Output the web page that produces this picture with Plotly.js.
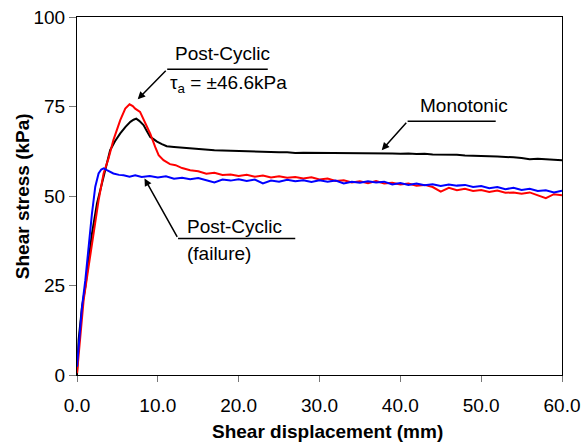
<!DOCTYPE html>
<html>
<head>
<meta charset="utf-8">
<script src="https://cdn.plot.ly/plotly-3.0.1.min.js"></script>
<style>html,body{margin:0;padding:0;background:#fff;}#chart{width:584px;height:447px;}</style>
</head>
<body>
<div id="chart"></div>
<script>
// Monotonic (black)
const monoX = [0,0.2,0.62,1.03,1.43,1.85,2.47,2.96,3.5,4.1,4.7,5.35,6.0,6.6,7.0,7.33,7.7,8.23,8.6,9.06,9.47,9.9,10.5,11.1,12,13,14,15,16,17,18,19,20,21,22,23,24,25,26,27,28,29,30,31,32,33,34,35,36,37,38,39,40,41,42,43,44,45,46,47,48,49,50,51,52,53,54,55,56,57,58,59,60];
const monoY = [0,9.8,19,24.6,32,39.5,47.9,52.6,57.2,62.8,65.3,67.5,69.3,70.7,71.3,71.6,71.0,69.8,68.3,66.5,65.9,65.2,64.5,63.9,63.7,63.5,63.2,63.0,63.0,62.8,62.7,62.6,62.6,62.4,62.5,62.3,62.2,62.2,62.2,62.0,62.1,62.1,62.1,62.0,62.1,62.0,62.0,62.1,61.9,62.0,62.1,61.9,61.8,61.9,61.7,61.8,61.6,61.6,61.4,61.5,61.3,61.3,61.2,61.1,61.0,61.0,60.8,60.6,60.3,60.4,60.2,60.1,60.0];
// Post-Cyclic tau_a = +/-46.6 kPa (red)
const cyclicX = [0,0.41,0.82,1.43,2.05,2.67,3.29,3.9,4.5,5.35,5.97,6.5,6.9,7.2,7.8,8.4,9.06,9.67,10.1,10.7,11.5,12.2,12.8,13,14,15,16,17,18,19,20,21,22,23,24,25,26,27,28,29,30,31,32,33,34,35,36,37,38,39,40,41,42,43,44,45,46,47,48,49,50,51,52,53,54,55,56,57,58,59,60];
const cyclicY = [0.5,11.6,20.9,30.2,39.5,48.8,56.3,60.5,65.6,71.2,74.4,75.6,75.1,74.4,73.5,70.7,67.4,63.7,61.4,60.0,58.9,58.6,58.1,57.8,57.2,56.9,56.2,56.5,55.9,56.0,55.6,55.9,55.4,55.7,55.2,55.5,55.1,55.3,54.9,55.2,54.6,54.9,54.2,54.4,53.8,54.1,53.6,54.2,53.5,53.7,53.2,53.5,52.9,53.1,52.5,51.2,52.3,51.6,52.0,51.4,51.7,51.1,51.5,50.9,51.0,50.6,51.0,50.3,49.4,50.5,50.2];
// Post-Cyclic failure (blue)
const failX = [0,0.33,0.62,1.03,1.43,1.85,2.26,2.67,3.0,3.29,3.7,4.5,5.2,5.76,6.5,7.2,8,9,10,11,12,13,14,15,16,17,18,19,20,21,22,23,24,25,26,27,28,29,30,31,32,33,34,35,36,37,38,39,40,41,42,43,44,45,46,47,48,49,50,51,52,53,54,55,56,57,58,59,60];
const failY = [2.3,11.6,19,26.5,35.8,45.1,52.6,56.3,57.4,57.7,57.2,56.3,55.9,55.8,55.4,55.8,55.3,55.6,55.2,55.5,54.8,55.1,54.7,55.0,54.4,53.8,54.6,54.3,54.7,54.2,54.6,53.5,54.3,54.0,54.5,54.1,54.4,53.9,54.4,54.0,54.3,53.5,54.0,53.7,54.1,53.8,54.0,53.2,53.6,53.1,53.5,53.0,53.3,52.8,53.2,52.9,53.1,52.5,52.8,52.2,52.5,51.9,52.3,51.7,52.0,51.4,51.6,51.0,51.5];

const xTicks = [0,10,20,30,40,50,60];
const xTickText = ["0.0","10.0","20.0","30.0","40.0","50.0","60.0"];
const yTicks = [0,25,50,75,100];

const FONT = "Liberation Sans, Arial, sans-serif";

const traces = [
  {x: monoX, y: monoY, mode: "lines", line: {color: "#000000", width: 2}, name: "Monotonic"},
  {x: cyclicX, y: cyclicY, mode: "lines", line: {color: "#ff0000", width: 2}, name: "Post-Cyclic"},
  {x: failX, y: failY, mode: "lines", line: {color: "#0000ff", width: 2}, name: "Post-Cyclic (failure)"}
];

const annFont = {family: FONT, size: 19, color: "#000"};
const titleFont = {family: FONT, size: 19, color: "#000"};
const layout = {
  width: 584, height: 447,
  margin: {l: 77, r: 22, t: 17, b: 72},
  paper_bgcolor: "#fff", plot_bgcolor: "#fff",
  showlegend: false,
  font: {family: FONT, color: "#000"},
  xaxis: {
    range: [0, 60], tickvals: xTicks, ticktext: xTickText,
    ticks: "outside", ticklen: 6, tickcolor: "#777", tickwidth: 1,
    showline: true, linecolor: "#000", linewidth: 1, mirror: true,
    showgrid: false, zeroline: false,
    tickfont: {family: FONT, size: 19, color: "#000"},
    ticklabelstandoff: 7
  },
  yaxis: {
    range: [0, 100], tickvals: yTicks,
    ticks: "outside", ticklen: 7, tickcolor: "#777", tickwidth: 1,
    showline: true, linecolor: "#000", linewidth: 1, mirror: true,
    showgrid: false, zeroline: false,
    tickfont: {family: FONT, size: 19, color: "#000"}
  },
  shapes: [
    {type: "line", xref: "x", yref: "y", x0: 11.16, x1: 23.6, y0: 85.4, y1: 85.4, line: {color: "#000", width: 1.5}},
    {type: "line", xref: "x", yref: "y", x0: 40.9, x1: 51.8, y0: 70.9, y1: 70.9, line: {color: "#000", width: 1.5}},
    {type: "line", xref: "x", yref: "y", x0: 12.5, x1: 27.0, y0: 38.15, y1: 38.15, line: {color: "#000", width: 1.5}}
  ],
  annotations: [
    {xref: "x", yref: "y", x: 7.51, y: 77.0, axref: "x", ayref: "y", ax: 11.16, ay: 85.4, showarrow: true, arrowhead: 2, arrowsize: 1, arrowwidth: 1.5, arrowcolor: "#000", text: ""},
    {xref: "x", yref: "y", x: 37.7, y: 62.8, axref: "x", ayref: "y", ax: 40.9, ay: 70.9, showarrow: true, arrowhead: 2, arrowsize: 1, arrowwidth: 1.5, arrowcolor: "#000", text: ""},
    {xref: "x", yref: "y", x: 8.35, y: 54.9, axref: "x", ayref: "y", ax: 12.5, ay: 38.15, showarrow: true, arrowhead: 2, arrowsize: 1, arrowwidth: 1.5, arrowcolor: "#000", text: ""},
    {xref: "x", yref: "y", x: 11.9, y: 89.9, xanchor: "left", yanchor: "middle", showarrow: false, text: "Post-Cyclic", font: annFont},
    {xref: "x", yref: "y", x: 11.3, y: 81.2, xanchor: "left", yanchor: "middle", showarrow: false, text: "τ<sub>a</sub> = ±46.6kPa", font: annFont},
    {xref: "x", yref: "y", x: 42.2, y: 75.4, xanchor: "left", yanchor: "middle", showarrow: false, text: "Monotonic", font: annFont},
    {xref: "x", yref: "y", x: 13.4, y: 41.5, xanchor: "left", yanchor: "middle", showarrow: false, text: "Post-Cyclic", font: annFont},
    {xref: "x", yref: "y", x: 13.4, y: 34.0, xanchor: "left", yanchor: "middle", showarrow: false, text: "(failure)", font: annFont},
    {xref: "paper", yref: "paper", x: 0.517, y: -0.159, xanchor: "center", yanchor: "middle", showarrow: false, text: "<b>Shear displacement (mm)</b>", font: titleFont},
    {xref: "paper", yref: "paper", x: -0.113, y: 0.5, xanchor: "center", yanchor: "middle", textangle: -90, showarrow: false, text: "<b>Shear stress (kPa)</b>", font: titleFont}
  ]
};

Plotly.newPlot("chart", traces, layout, {staticPlot: true, displayModeBar: false});
</script>
</body>
</html>
